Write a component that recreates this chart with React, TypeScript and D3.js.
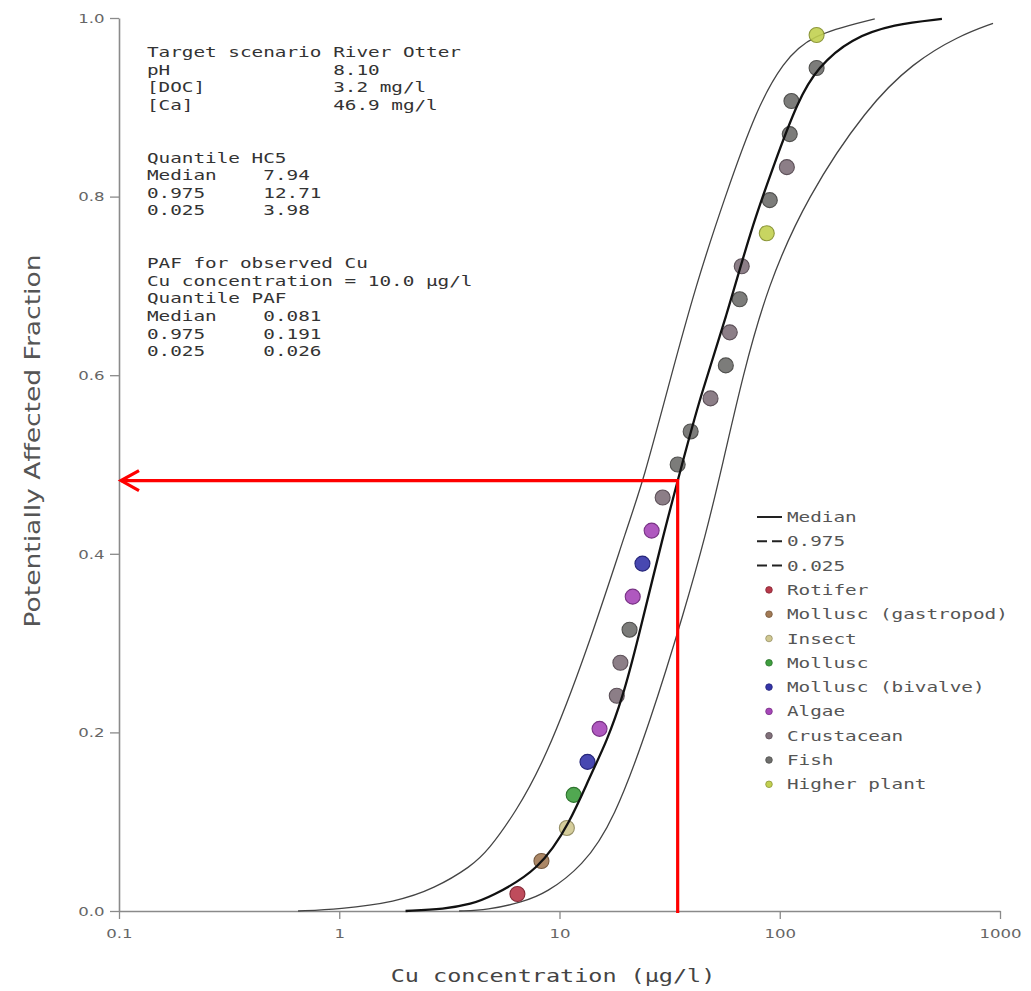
import React, { useEffect, useRef } from 'react';
import * as d3 from 'd3';

// fitted curves as [concentration, fraction]
const medianCurve: [number, number][] = [
  [2.0, 0.0], [3.0, 0.002], [4.0, 0.008], [4.8, 0.015], [8.15, 0.046], [11.2, 0.10],
  [13.7, 0.15], [16.4, 0.19], [19.4, 0.24], [22.5, 0.30], [29.5, 0.42], [36, 0.50],
  [43.4, 0.575], [57.5, 0.667], [73.3, 0.76], [93.2, 0.833], [121, 0.908], [149, 0.945],
  [210, 0.977], [330, 0.993], [545, 0.999]
];
const lowerCurve: [number, number][] = [
  [0.65, 0.0], [1.0, 0.002], [1.8, 0.01], [2.7, 0.025], [3.98, 0.05], [4.75, 0.068],
  [6.3, 0.11], [8.6, 0.169], [13.3, 0.29], [20.8, 0.438], [23.9, 0.48], [31.8, 0.595], [41.5, 0.7],
  [56.4, 0.8], [78.9, 0.9], [103.5, 0.95], [137, 0.981], [270, 0.999]
];
const upperCurve: [number, number][] = [
  [3.5, 0.0], [4.7, 0.001], [6.8, 0.01], [8.7, 0.02], [12.71, 0.05], [17.6, 0.1],
  [26, 0.214], [37, 0.337], [46, 0.42], [55, 0.5], [68, 0.6], [88, 0.7], [133, 0.8],
  [249, 0.9], [403, 0.95], [650, 0.98], [930, 0.994]
];

// species points
const pointConc = [6.44, 8.28, 10.8, 11.6, 13.4, 15.2, 18.2, 18.9, 20.8, 21.5, 23.8, 26.2, 29.4, 34.4,
  39.4, 48.5, 56.9, 59.3, 65.8, 67.2, 87.3, 90.1, 107.7, 111, 113, 147, 147];
const pointFrac = [0.019, 0.056, 0.093, 0.130, 0.167, 0.204, 0.241, 0.278, 0.315, 0.352, 0.389, 0.426,
  0.463, 0.500, 0.537, 0.574, 0.611, 0.648, 0.685, 0.722, 0.759, 0.796, 0.833, 0.870, 0.907, 0.944, 0.981];
const pointGroup = ['Rotifer', 'Mollusc (gastropod)', 'Insect', 'Mollusc', 'Mollusc (bivalve)', 'Algae',
  'Crustacean', 'Crustacean', 'Fish', 'Algae', 'Mollusc (bivalve)', 'Algae', 'Crustacean', 'Fish', 'Fish',
  'Crustacean', 'Fish', 'Crustacean', 'Fish', 'Crustacean', 'Higher plant', 'Fish', 'Crustacean', 'Fish',
  'Fish', 'Fish', 'Higher plant'];

const groups = ['Rotifer', 'Mollusc (gastropod)', 'Insect', 'Mollusc', 'Mollusc (bivalve)', 'Algae',
  'Crustacean', 'Fish', 'Higher plant'];
const groupColors = ['#b8384a', '#a27a55', '#d0c890', '#3e9e3e', '#3434a8', '#a646b8',
  '#80707a', '#6e6e6c', '#c2d050'];

const lineLegend = ['Median', '0.975', '0.025'];

const xTicks = [0.1, 1, 10, 100, 1000];
const yTicks = [0, 0.2, 0.4, 0.6, 0.8, 1.0];

const scenarioLabels = ['Target scenario', 'pH', '[DOC]', '[Ca]'];
const scenarioValues = ['River Otter', '8.10', '3.2 mg/l', '46.9 mg/l'];
const hc5Labels = ['Median', '0.975', '0.025'];
const hc5Values = ['7.94', '12.71', '3.98'];
const pafLabels = ['Median', '0.975', '0.025'];
const pafValues = ['0.081', '0.191', '0.026'];

// hand-drawn red marker
const markerConc = 34.4;
const markerFrac = 0.482;

const SX = 1.38;
const MONO = '"DejaVu Sans Mono", monospace';
const SANS = '"DejaVu Sans", sans-serif';

function App() {
  const ref = useRef<SVGSVGElement>(null);

  useEffect(() => {
    const svg = d3.select(ref.current);
    svg.selectAll('*').remove();

    const x = d3.scaleLog().domain([0.1, 1000]).range([119, 1000]);
    const y = d3.scaleLinear().domain([0, 1]).range([911, 18]);
    const color = d3.scaleOrdinal<string, string>().domain(groups).range(groupColors);

    const txt = (g, px, py, s, size, family, fill, anchor = 'start') =>
      g.append('text')
        .attr('transform', `translate(${px},${py}) scale(${SX},1)`)
        .attr('font-size', size)
        .attr('font-family', family)
        .attr('fill', fill)
        .attr('text-anchor', anchor)
        .text(s);

    // axes
    const xAxis = svg.append('g')
      .attr('transform', `translate(0,${y(0)})`)
      .call(d3.axisBottom(x).tickValues(xTicks).tickFormat(d => String(d)).tickSize(8).tickSizeOuter(0).tickPadding(10));
    const yAxis = svg.append('g')
      .attr('transform', `translate(${x(0.1)},0)`)
      .call(d3.axisLeft(y).tickValues(yTicks).tickFormat(d3.format('.1f')).tickSize(9).tickSizeOuter(0).tickPadding(1.5));
    [xAxis, yAxis].forEach(a => {
      a.select('.domain').attr('stroke', '#8a8a8a').attr('stroke-width', 1.6);
      a.selectAll('.tick line').attr('stroke', '#8a8a8a').attr('stroke-width', 1.3);
      a.selectAll('.tick text')
        .attr('font-family', SANS)
        .attr('font-size', 12)
        .attr('fill', '#666')
        .attr('transform', `scale(${SX},1)`);
    });
    yAxis.selectAll('.tick text').attr('dy', '0.36em');

    txt(svg, 553, 982, 'Cu concentration (µg/l)', 17, MONO, '#444', 'middle');
    svg.append('text')
      .attr('transform', `translate(40,441) scale(${SX},1) rotate(-90)`)
      .attr('font-size', 15)
      .attr('font-family', SANS)
      .attr('fill', '#555')
      .attr('text-anchor', 'middle')
      .attr('textLength', 373)
      .attr('lengthAdjust', 'spacingAndGlyphs')
      .text('Potentially Affected Fraction');

    // curves
    const line = d3.line<[number, number]>()
      .x(d => x(d[0]))
      .y(d => y(d[1]))
      .curve(d3.curveBasis);
    svg.append('path').attr('d', line(lowerCurve)).attr('fill', 'none').attr('stroke', '#444').attr('stroke-width', 1.3);
    svg.append('path').attr('d', line(upperCurve)).attr('fill', 'none').attr('stroke', '#444').attr('stroke-width', 1.3);

    // points
    svg.append('g')
      .selectAll('circle')
      .data(pointConc.map((c, i) => ({ c, f: pointFrac[i], g: pointGroup[i] })))
      .join('circle')
      .attr('cx', d => x(d.c))
      .attr('cy', d => y(d.f))
      .attr('r', 7.5)
      .attr('fill', d => color(d.g))
      .attr('fill-opacity', 0.9)
      .attr('stroke', d => d3.color(color(d.g)).darker(0.9).formatHex())
      .attr('stroke-width', 1.1);

    svg.append('path').attr('d', line(medianCurve)).attr('fill', 'none').attr('stroke', '#111').attr('stroke-width', 2.3);

    // text box
    const CW = 8.43 * SX;
    const LH = 17.6;
    const bx = 147;
    const by = 57;
    const box = svg.append('g');
    scenarioLabels.forEach((s, i) => {
      txt(box, bx, by + i * LH, s, 14, MONO, '#333');
      txt(box, bx + 16 * CW, by + i * LH, scenarioValues[i], 14, MONO, '#333');
    });
    txt(box, bx, by + 6 * LH, 'Quantile HC5', 14, MONO, '#333');
    hc5Labels.forEach((s, i) => {
      txt(box, bx, by + (7 + i) * LH, s, 14, MONO, '#333');
      txt(box, bx + 10 * CW, by + (7 + i) * LH, hc5Values[i], 14, MONO, '#333');
    });
    txt(box, bx, by + 12 * LH, 'PAF for observed Cu', 14, MONO, '#333');
    txt(box, bx, by + 13 * LH, 'Cu concentration = 10.0 µg/l', 14, MONO, '#333');
    txt(box, bx, by + 14 * LH, 'Quantile PAF', 14, MONO, '#333');
    pafLabels.forEach((s, i) => {
      txt(box, bx, by + (15 + i) * LH, s, 14, MONO, '#333');
      txt(box, bx + 10 * CW, by + (15 + i) * LH, pafValues[i], 14, MONO, '#333');
    });

    // legend
    const lg = svg.append('g');
    const lx = 757;
    const ly = 517;
    const step = 24.3;
    lineLegend.forEach((s, i) => {
      lg.append('line')
        .attr('x1', lx).attr('x2', lx + 25)
        .attr('y1', ly + i * step).attr('y2', ly + i * step)
        .attr('stroke', '#222')
        .attr('stroke-width', 2)
        .attr('stroke-dasharray', i === 0 ? null : '10,5');
      txt(lg, lx + 30, ly + i * step + 5, s, 14, MONO, '#555');
    });
    groups.forEach((s, i) => {
      const yy = ly + (i + 3) * step;
      lg.append('circle')
        .attr('cx', lx + 12).attr('cy', yy).attr('r', 3.3)
        .attr('fill', groupColors[i])
        .attr('stroke', d3.color(groupColors[i]).darker(0.9).formatHex())
        .attr('stroke-width', 0.8);
      txt(lg, lx + 30, yy + 5, s, 14, MONO, '#555');
    });

    // red annotation
    const mx = x(markerConc);
    const my = y(markerFrac);
    const ax = x(0.1) + 2;
    const red = svg.append('g').attr('stroke', '#ff0000').attr('stroke-width', 3.2).attr('fill', 'none');
    red.append('path').attr('d', `M${mx},${y(0) + 2}V${my}H${ax}`);
    red.append('path').attr('d', `M${ax + 18},${my - 10}L${ax},${my}L${ax + 18},${my + 10}`);
  }, []);

  return (
    <svg ref={ref} width={1031} height={991}
      style={{ position: 'absolute', left: 0, top: 0, background: '#fff' }} />
  );
}

export default App;
